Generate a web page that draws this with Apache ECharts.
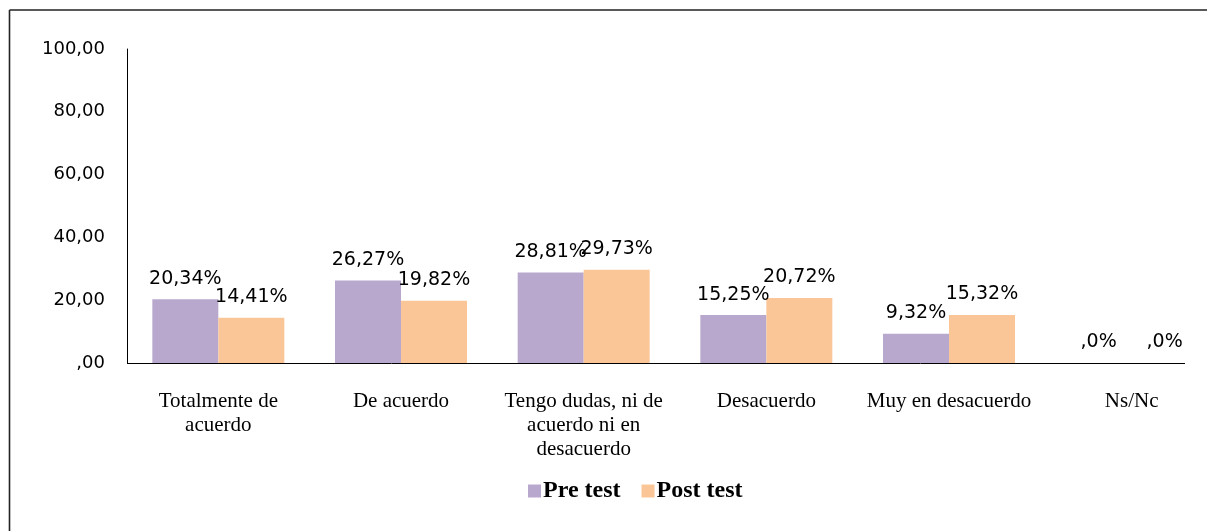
<!DOCTYPE html>
<html>
<head>
<meta charset="utf-8">
<script src="https://cdn.jsdelivr.net/npm/echarts@6/dist/echarts.min.js"></script>
<style>
  html, body { margin: 0; padding: 0; background: #fff; }
  #main { width: 1207px; height: 531px; }
</style>
</head>
<body>
<div id="main"></div>
<script>
  // datos del gráfico
  const categories = ['Totalmente de\nacuerdo', 'De acuerdo', 'Tengo dudas, ni de\nacuerdo ni en\ndesacuerdo', 'Desacuerdo', 'Muy en desacuerdo', 'Ns/Nc']
  const preTest = [20.34, 26.27, 28.81, 15.25, 9.32, 0]
  const postTest = [14.41, 19.82, 29.73, 20.72, 15.32, 0]
  const yTicks = [0, 20, 40, 60, 80, 100]

  const fmtPct = v => v === 0 ? ',0%' : v.toFixed(2).replace('.', ',') + '%'
  const fmtAxis = v => v === 0 ? ',00' : v.toFixed(2).replace('.', ',')

  const labelStyle = {
    show: true,
    position: 'top',
    distance: 11,
    color: '#000',
    fontFamily: 'DejaVu Sans',
    fontSize: 19,
    formatter: p => fmtPct(p.value)
  }

  let myChart = echarts.init(document.getElementById('main'))
  let option = {
    animation: false,
    backgroundColor: '#fff',
    textStyle: { fontFamily: 'Liberation Serif' },
    legend: {
      top: 479,
      left: 528,
      padding: 0,
      itemWidth: 13,
      itemHeight: 13,
      itemGap: 21,
      icon: 'rect',
      textStyle: {
        fontFamily: 'Liberation Serif',
        fontWeight: 'bold',
        fontSize: 24,
        color: '#000',
        padding: [0, 0, 0, -3]
      },
      data: ['Pre test', 'Post test']
    },
    // el área del gráfico sigue más allá del borde derecho (la imagen está recortada)
    grid: {
      left: 127,
      width: 1096,
      top: 49,
      bottom: 168,
      containLabel: false,
      outerBoundsMode: 'none'
    },
    xAxis: {
      type: 'category',
      data: categories,
      boundaryGap: true,
      axisLine: { show: false },
      axisTick: { show: false },
      axisLabel: {
        interval: 0,
        margin: 26,
        color: '#000',
        fontFamily: 'Liberation Serif',
        fontSize: 21,
        lineHeight: 24,
        align: 'center'
      }
    },
    yAxis: {
      type: 'value',
      min: yTicks[0],
      max: yTicks[yTicks.length - 1],
      interval: 20,
      axisLine: { show: true, lineStyle: { color: '#000', width: 1 } },
      axisTick: { show: false },
      splitLine: { show: false },
      axisLabel: {
        margin: 22,
        color: '#000',
        fontFamily: 'DejaVu Sans',
        fontSize: 18,
        formatter: fmtAxis
      }
    },
    series: [
      {
        name: 'Pre test',
        type: 'bar',
        barWidth: 66,
        barGap: '0%',
        itemStyle: { color: '#B8A8CD' },
        label: labelStyle,
        data: preTest
      },
      {
        name: 'Post test',
        type: 'bar',
        barWidth: 66,
        barGap: '0%',
        itemStyle: { color: '#FAC698' },
        label: labelStyle,
        data: postTest
      }
    ]
  }
  myChart.setOption(option)

  // línea del eje X (termina antes del borde) y marco del gráfico
  const axisY = Math.round(myChart.convertToPixel({ yAxisIndex: 0 }, 0)) + 0.5
  myChart.setOption({
    graphic: [
      {
        type: 'line',
        shape: { x1: 127, y1: axisY, x2: 1185, y2: axisY },
        style: { stroke: '#000', lineWidth: 1 },
        z: 10
      },
      {
        type: 'line',
        shape: { x1: 9.5, y1: 10, x2: 1207, y2: 10 },
        style: { stroke: '#222', lineWidth: 1.6 },
        z: 10
      },
      {
        type: 'line',
        shape: { x1: 9.5, y1: 10, x2: 9.5, y2: 531 },
        style: { stroke: '#222', lineWidth: 1.6 },
        z: 10
      }
    ]
  })
</script>
</body>
</html>
